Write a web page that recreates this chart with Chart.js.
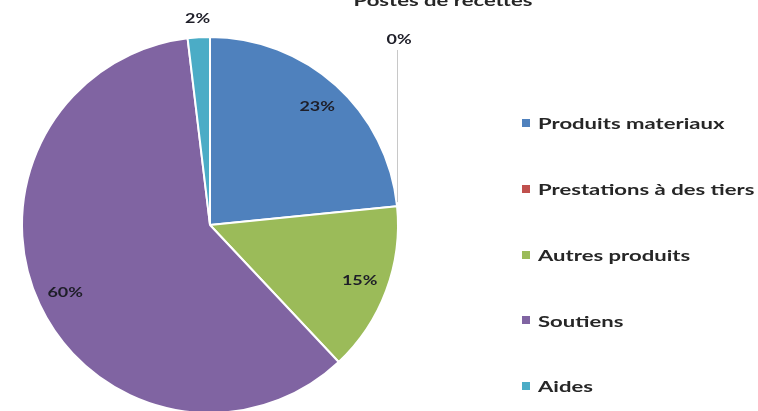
<!DOCTYPE html>
<html>
<head>
<meta charset="utf-8">
<script src="https://cdn.jsdelivr.net/npm/chart.js@4"></script>
<style>
  html, body { margin: 0; padding: 0; background: #fff; overflow: hidden; }
  #wrap { position: absolute; left: 0; top: 0; width: 758px; height: 450px; }
</style>
</head>
<body>
<div id="wrap"><canvas id="recettesChart" width="758" height="450"></canvas></div>
<script>
// Postes de recettes - pie chart
const titleText = 'Postes de recettes';
const categories = ['Produits materiaux', 'Prestations à des tiers', 'Autres produits', 'Soutiens', 'Aides'];
const shares = [23.4, 0, 14.6, 60.1, 1.9];
const sliceColors = ['#4F81BD', '#C0504D', '#9BBB59', '#8064A2', '#4BACC6'];

const FONT = "Lato, 'Open Sans', sans-serif";
const STRETCH = 1.38; // the text in the picture is drawn wide

// draws text stretched horizontally around its anchor
function wideText(ctx, txt, x, y, align) {
    ctx.save();
    ctx.translate(x, y);
    ctx.scale(STRETCH, 1);
    ctx.textAlign = align;
    ctx.fillText(txt, 0, 0);
    ctx.restore();
}

// percentage labels on/around the slices
const sliceLabels = {
    id: 'sliceLabels',
    afterDatasetsDraw(chart) {
        const ctx = chart.ctx;
        const meta = chart.getDatasetMeta(0);
        const values = chart.data.datasets[0].data;
        const total = values.reduce((a, b) => a + b, 0);
        ctx.save();
        ctx.font = 'bold 13px ' + FONT;
        ctx.fillStyle = '#1e1e28';
        ctx.textBaseline = 'middle';
        meta.data.forEach((arc, i) => {
            const p = arc.getProps(['x', 'y', 'startAngle', 'endAngle', 'outerRadius'], true);
            const mid = (p.startAngle + p.endAngle) / 2;
            const txt = Math.round(values[i] / total * 100) + '%';
            if (values[i] === 0) {
                // leader line going up from the edge
                const ex = p.x + Math.cos(mid) * p.outerRadius;
                const ey = p.y + Math.sin(mid) * p.outerRadius;
                const topY = p.y - p.outerRadius + 3;
                ctx.strokeStyle = '#c8c8c8';
                ctx.lineWidth = 1;
                ctx.beginPath();
                ctx.moveTo(Math.round(ex) + 0.5, topY + 10);
                ctx.lineTo(Math.round(ex) + 0.5, ey - 4);
                ctx.stroke();
                wideText(ctx, txt, ex + 2, topY, 'center');
            } else if (values[i] / total < 0.05) {
                const r = p.outerRadius * 1.1;
                wideText(ctx, txt, p.x + Math.cos(mid) * r, p.y + Math.sin(mid) * r, 'center');
            } else {
                const r = p.outerRadius * 0.85;
                wideText(ctx, txt, p.x + Math.cos(mid) * r, p.y + Math.sin(mid) * r, 'center');
            }
        });
        ctx.restore();
    }
};

// title (cut off at the top) and the legend on the right
const titleAndLegend = {
    id: 'titleAndLegend',
    afterDraw(chart) {
        const ctx = chart.ctx;
        ctx.save();
        ctx.fillStyle = '#262626';
        ctx.font = 'bold 16px ' + FONT;
        ctx.textBaseline = 'alphabetic';
        wideText(ctx, titleText, 443, 6, 'center');

        ctx.font = 'bold 16px ' + FONT;
        ctx.textBaseline = 'middle';
        chart.data.labels.forEach((lab, i) => {
            const y = 123 + i * 65.8;
            ctx.fillStyle = sliceColors[i];
            ctx.fillRect(522, Math.round(y - 4), 8, 8);
            ctx.fillStyle = '#262626';
            wideText(ctx, lab, 538, y + 1, 'left');
        });
        ctx.restore();
    }
};

new Chart(document.getElementById('recettesChart').getContext('2d'), {
    type: 'pie',
    data: {
        labels: categories,
        datasets: [{
            data: shares,
            backgroundColor: sliceColors,
            borderColor: '#ffffff',
            borderWidth: 2
        }]
    },
    options: {
        responsive: false,
        animation: false,
        devicePixelRatio: 1,
        layout: { padding: { top: 36, bottom: 36, left: 21, right: 359 } },
        plugins: {
            legend: { display: false },
            title: { display: false },
            tooltip: { enabled: false }
        }
    },
    plugins: [sliceLabels, titleAndLegend]
});
</script>
</body>
</html>
